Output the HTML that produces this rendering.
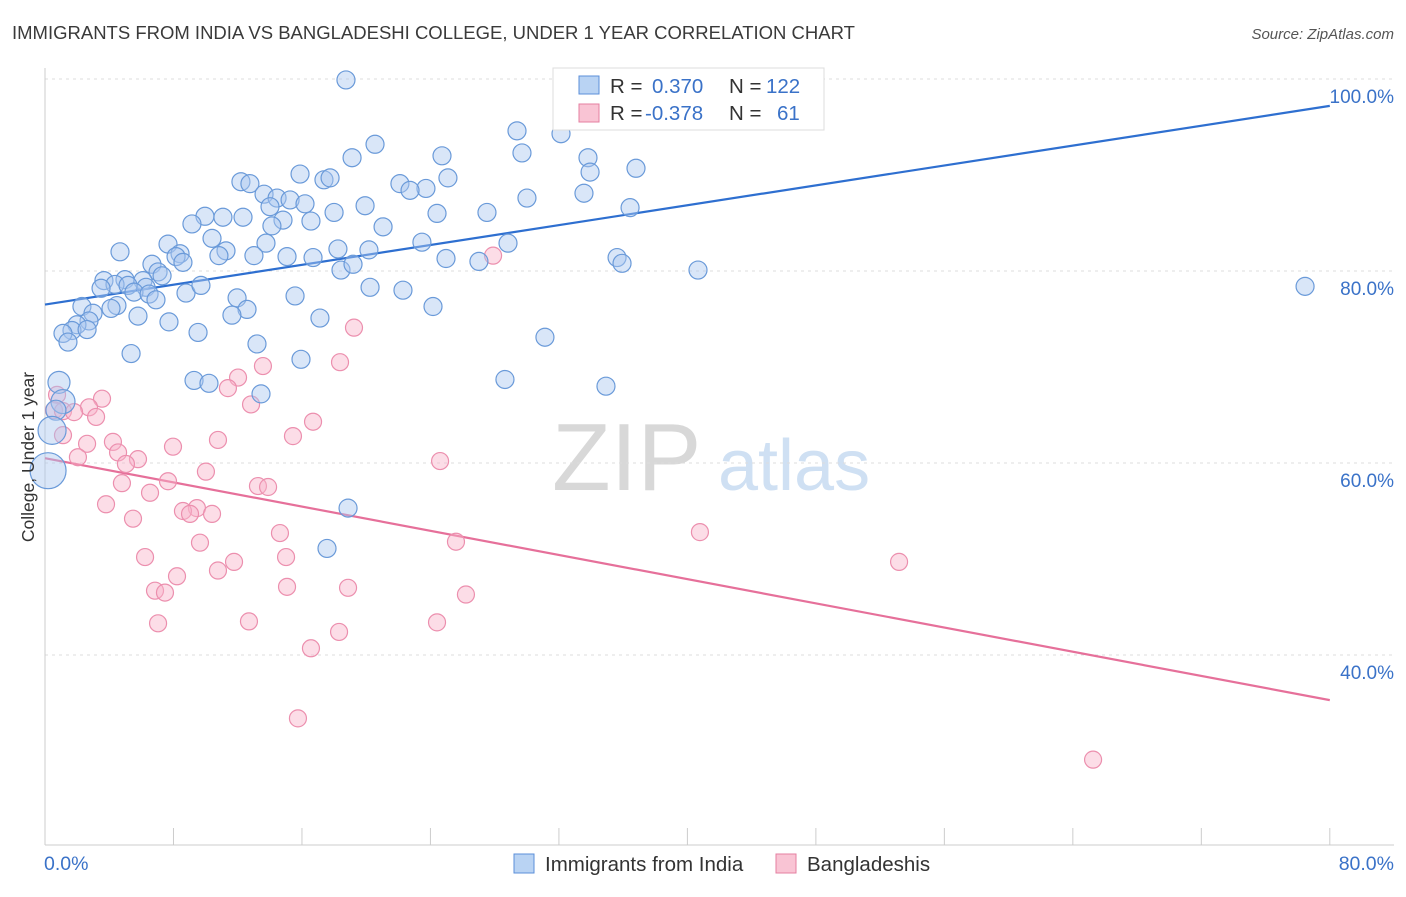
<!DOCTYPE html>
<html><head><meta charset="utf-8"><style>
body{margin:0;background:#fff;font-family:"Liberation Sans",sans-serif}
svg text{font-family:"Liberation Sans",sans-serif}
</style></head><body>
<svg id="chart" width="1406" height="892" xmlns="http://www.w3.org/2000/svg">
<text x="12" y="39" font-size="18.5" fill="#3a3a3a">IMMIGRANTS FROM INDIA VS BANGLADESHI COLLEGE, UNDER 1 YEAR CORRELATION CHART</text>
<text x="1394" y="39" font-size="15" fill="#555" font-style="italic" text-anchor="end">Source: ZipAtlas.com</text>
<g>
<text x="552" y="490" font-size="96" fill="#d8d8d8" font-family="Liberation Serif, serif">ZIP</text>
<text x="718" y="490" font-size="72" fill="#cfe0f3">atlas</text>
</g>
<g id="grid"></g>
<g id="axes"></g>
<g id="trend"></g>
<g id="pts"></g>
<text transform="translate(34,457) rotate(-90)" font-size="17.5" fill="#333" text-anchor="middle">College, Under 1 year</text>
<g>
<rect x="553" y="68" width="271" height="62" fill="#fff" stroke="#ddd"/>
<rect x="579" y="76" width="20" height="18" fill="#b9d3f3" stroke="#5b8fd9"/>
<rect x="579" y="104" width="20" height="18" fill="#f9c4d4" stroke="#e57fa1"/>
<text x="610" y="93" font-size="20.5" fill="#333">R = </text><text x="652" y="93" font-size="20.5" fill="#3a72c8">0.370</text>
<text x="729" y="93" font-size="20.5" fill="#333">N = </text><text x="766" y="93" font-size="20.5" fill="#3a72c8">122</text>
<text x="610" y="120" font-size="20.5" fill="#333">R = </text><text x="645" y="120" font-size="20.5" fill="#3a72c8">-0.378</text>
<text x="729" y="120" font-size="20.5" fill="#333">N = </text><text x="777" y="120" font-size="20.5" fill="#3a72c8">61</text>
</g>
<g>
<rect x="514" y="854" width="20" height="19" fill="#b9d3f3" stroke="#5b8fd9"/>
<text x="545" y="871" font-size="20.5" fill="#333">Immigrants from India</text>
<rect x="776" y="854" width="20" height="19" fill="#f9c4d4" stroke="#e57fa1"/>
<text x="807" y="871" font-size="20.5" fill="#333">Bangladeshis</text>
</g>
</svg>
<script>
const blueX=[18.74,29.39,32.13,20.55,24.72,29.70,19.12,33.81,36.80,33.94,15.88,17.37,17.75,12.20,12.76,25.09,22.10,23.72,22.73,13.64,33.56,14.45,15.26,30.01,14.01,16.19,19.93,36.43,9.96,11.08,12.33,24.41,18.0,27.52,14.82,16.56,9.15,14.13,21.05,10.40,7.66,13.76,23.47,28.83,4.67,8.41,11.27,10.83,8.16,8.59,13.01,18.24,20.17,15.07,16.69,24.97,27.02,35.62,35.93,6.66,7.04,18.43,19.18,40.66,3.67,4.98,6.10,7.29,4.36,3.49,5.17,6.29,5.54,6.48,8.78,9.71,20.24,22.29,15.57,11.96,6.91,12.58,24.16,2.30,4.48,4.11,2.99,5.79,11.64,17.12,2.74,1.99,7.72,1.68,2.62,9.53,1.12,1.43,31.13,13.20,5.36,15.94,9.28,10.21,28.64,34.93,0.87,13.45,78.46,1.12,0.68,0.44,0.19,18.87,17.56];
const blueY=[99.9,94.6,94.3,93.2,92.0,92.3,91.8,91.8,90.7,90.3,90.1,89.5,89.7,89.3,89.1,89.7,89.1,88.6,88.4,88.0,88.1,87.6,87.4,87.6,86.7,87.0,86.8,86.6,85.7,85.6,85.6,86.0,86.1,86.1,85.3,85.2,84.9,84.7,84.6,83.4,82.8,82.9,83.0,82.9,82.0,81.8,82.1,81.6,81.5,80.9,81.6,82.3,82.2,81.5,81.4,81.3,81.0,81.4,80.8,80.7,79.9,80.1,80.7,80.1,79.0,79.1,79.0,79.5,78.6,78.2,78.5,78.3,77.8,77.6,77.7,78.5,78.3,78.0,77.4,77.2,77.0,76.0,76.3,76.3,76.4,76.1,75.6,75.3,75.4,75.1,74.8,74.4,74.7,73.8,73.9,73.6,73.5,72.6,73.1,72.4,71.4,70.8,68.6,68.3,68.7,68.0,68.4,67.2,78.4,66.4,65.5,63.4,59.2,55.3,51.1];
const blueBig={106:11,109:12,110:10,111:14,112:18};
const pinkX=[27.90,19.24,18.37,13.57,12.02,11.39,3.55,12.83,0.75,2.74,0.56,1.12,1.81,3.18,16.69,1.12,15.44,10.77,4.23,2.62,7.97,4.55,2.05,5.79,24.60,5.04,10.02,7.66,4.79,13.26,13.89,6.54,3.80,9.46,8.59,10.40,9.03,5.48,14.63,40.78,25.59,9.65,15.01,6.23,11.77,53.18,10.77,8.22,15.07,18.87,6.85,7.47,26.21,12.70,7.04,24.41,18.31,16.56,15.75,65.26];
const pinkY=[81.6,74.1,70.5,70.1,68.9,67.8,66.7,66.1,67.1,65.8,65.5,65.4,65.3,64.8,64.3,62.9,62.8,62.4,62.2,62.0,61.7,61.1,60.6,60.4,60.2,59.9,59.1,58.1,57.9,57.6,57.5,56.9,55.7,55.3,55.0,54.7,54.7,54.2,52.7,52.8,51.8,51.7,50.2,50.2,49.7,49.7,48.8,48.2,47.1,47.0,46.7,46.5,46.3,43.5,43.3,43.4,42.4,40.7,33.4,29.1];
const trendBlue=[76.5,97.2];
const trendPink=[60.5,35.3];
const yTicks=[40,60,80,100];
const yTickLabels=["40.0%","60.0%","80.0%","100.0%"];
const xTicks=[0,8,16,24,32,40,48,56,64,72,80];

const NS="http://www.w3.org/2000/svg";
const sx=v=>45+v*16.06;
const sy=v=>79+(100-v)*9.6;
function mk(tag,attrs,parent){const e=document.createElementNS(NS,tag);for(const k in attrs)e.setAttribute(k,attrs[k]);document.getElementById(parent).appendChild(e);return e;}

yTicks.forEach((t,i)=>{
  const l=mk('line',{x1:45,x2:1394,y1:sy(t),y2:sy(t),stroke:'#dcdcdc','stroke-dasharray':'3,4'},'grid');
  
  
  const tx=mk('text',{x:1394,y:sy(t)+24,'font-size':19,fill:'#3a72c8','text-anchor':'end'},'grid');
  tx.textContent=yTickLabels[i];
  
  
});
const ax=mk('line',{x1:45,x2:45,y1:68,y2:845,stroke:'#ccc'},'axes');


const bx=mk('line',{x1:45,x2:1394,y1:845,y2:845,stroke:'#ccc'},'axes');


xTicks.forEach(t=>{
  const l=mk('line',{x1:sx(t),x2:sx(t),y1:828,y2:845,stroke:'#ccc'},'axes');
  
  
});
const xl0=mk('text',{x:44,y:870,'font-size':19.5,fill:'#3a72c8'},'axes');xl0.textContent='0.0%';


const xl1=mk('text',{x:1394,y:870,'font-size':19.5,fill:'#3a72c8','text-anchor':'end'},'axes');xl1.textContent='80.0%';



pinkX.forEach((x,i)=>{
  const c=mk('circle',{cx:sx(x),cy:sy(pinkY[i]),r:8.5,fill:'rgba(248,180,202,0.45)',stroke:'#ec8fae','stroke-width':1.2},'pts');
  
  
});
blueX.forEach((x,i)=>{
  const c=mk('circle',{cx:sx(x),cy:sy(blueY[i]),r:blueBig[i]||9,fill:'rgba(170,200,240,0.45)',stroke:'#6a9ad9','stroke-width':1.2},'pts');
  
  
});
const tb=mk('line',{x1:sx(0),y1:sy(trendBlue[0]),x2:sx(80),y2:sy(trendBlue[1]),stroke:'#2e6fd0','stroke-width':2.2},'trend');


const tp=mk('line',{x1:sx(0),y1:sy(trendPink[0]),x2:sx(80),y2:sy(trendPink[1]),stroke:'#e6709a','stroke-width':2.2},'trend');


</script>
</body></html>
